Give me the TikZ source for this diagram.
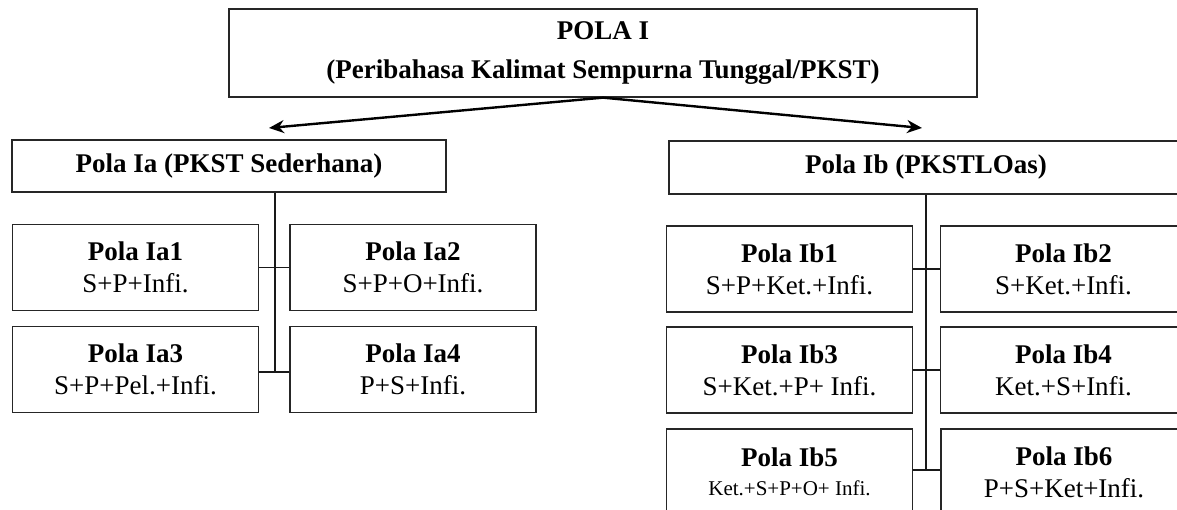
\documentclass[tikz,border=0pt]{standalone}
\usepackage{fontspec}
\setmainfont{Liberation Serif}
\usetikzlibrary{arrows.meta}

\begin{document}
\begin{tikzpicture}[x=1pt,y=-1pt]
\tikzset{every node/.style={draw=black!85,line width=1.3pt,align=center,inner sep=0pt,font=\fontsize{27}{32}\selectfont},
polabox/.style={minimum width=246pt,minimum height=86pt},
link/.style={line width=1.4pt,black!90},
thick link/.style={line width=2.8pt,black!90},
split/.style={line width=2.4pt,-{Stealth[length=15pt,width=13pt]}}}
\useasboundingbox (0,0) rectangle (1177,510);
\clip (0,0) rectangle (1177,510);
\node [minimum width=748pt,minimum height=88pt] (top) at (603, 53) {\textbf{POLA I}\\[7pt]\textbf{(Peribahasa Kalimat Sempurna Tunggal/PKST)}};
\node [minimum width=434pt,minimum height=52pt] (Ia) at (229, 166) {\textbf{Pola Ia (PKST Sederhana)}};
\node [minimum width=514pt,minimum height=53pt] (Ib) at (926, 167.5) {\textbf{Pola Ib (PKSTLOas)}};
% Pola Ia
\node [polabox] (Ia1) at (135.5, 267.5) {\textbf{Pola Ia1}\\S+P+Infi.};
\node [polabox] (Ia2) at (413, 267.5) {\textbf{Pola Ia2}\\S+P+O+Infi.};
\node [polabox] (Ia3) at (135.5, 369.5) {\textbf{Pola Ia3}\\S+P+Pel.+Infi.};
\node [polabox] (Ia4) at (413, 369.5) {\textbf{Pola Ia4}\\P+S+Infi.};
% Pola Ib
\node [polabox] (Ib1) at (789.5, 269) {\textbf{Pola Ib1}\\S+P+Ket.+Infi.};
\node [polabox] (Ib2) at (1063.5, 269) {\textbf{Pola Ib2}\\S+Ket.+Infi.};
\node [polabox] (Ib3) at (789.5, 370) {\textbf{Pola Ib3}\\S+Ket.+P+ Infi.};
\node [polabox] (Ib4) at (1063.5, 370) {\textbf{Pola Ib4}\\Ket.+S+Infi.};
\node [polabox] (Ib5) at (789.5, 472) {\textbf{Pola Ib5}\\[-3pt]{\fontsize{21}{24}\selectfont Ket.+S+P+O+ Infi.}};
\node [polabox] (Ib6) at (1064, 472) {\textbf{Pola Ib6}\\P+S+Ket+Infi.};
\coordinate (aL) at (269, 128);
\coordinate (aR) at (922, 128);
\coordinate (jA) at (275, 372);
\coordinate (jB) at (926, 470);
\draw [split] (top.south) -- (aL);
\draw [split] (top.south) -- (aR);
\draw [link] (Ia.south -| jA) -- (jA);
\draw [link] (Ia1.east) -- (Ia2.west);
\draw [thick link] (Ia3.east |- jA) -- (Ia4.west |- jA);
\draw [link] (Ib.south -| jB) -- (jB);
\draw [link] (Ib1.east) -- (Ib2.west);
\draw [thick link] (Ib3.east) -- (Ib4.west);
\draw [thick link] (Ib5.east |- jB) -- (Ib6.west |- jB);
\end{tikzpicture}
\end{document}
